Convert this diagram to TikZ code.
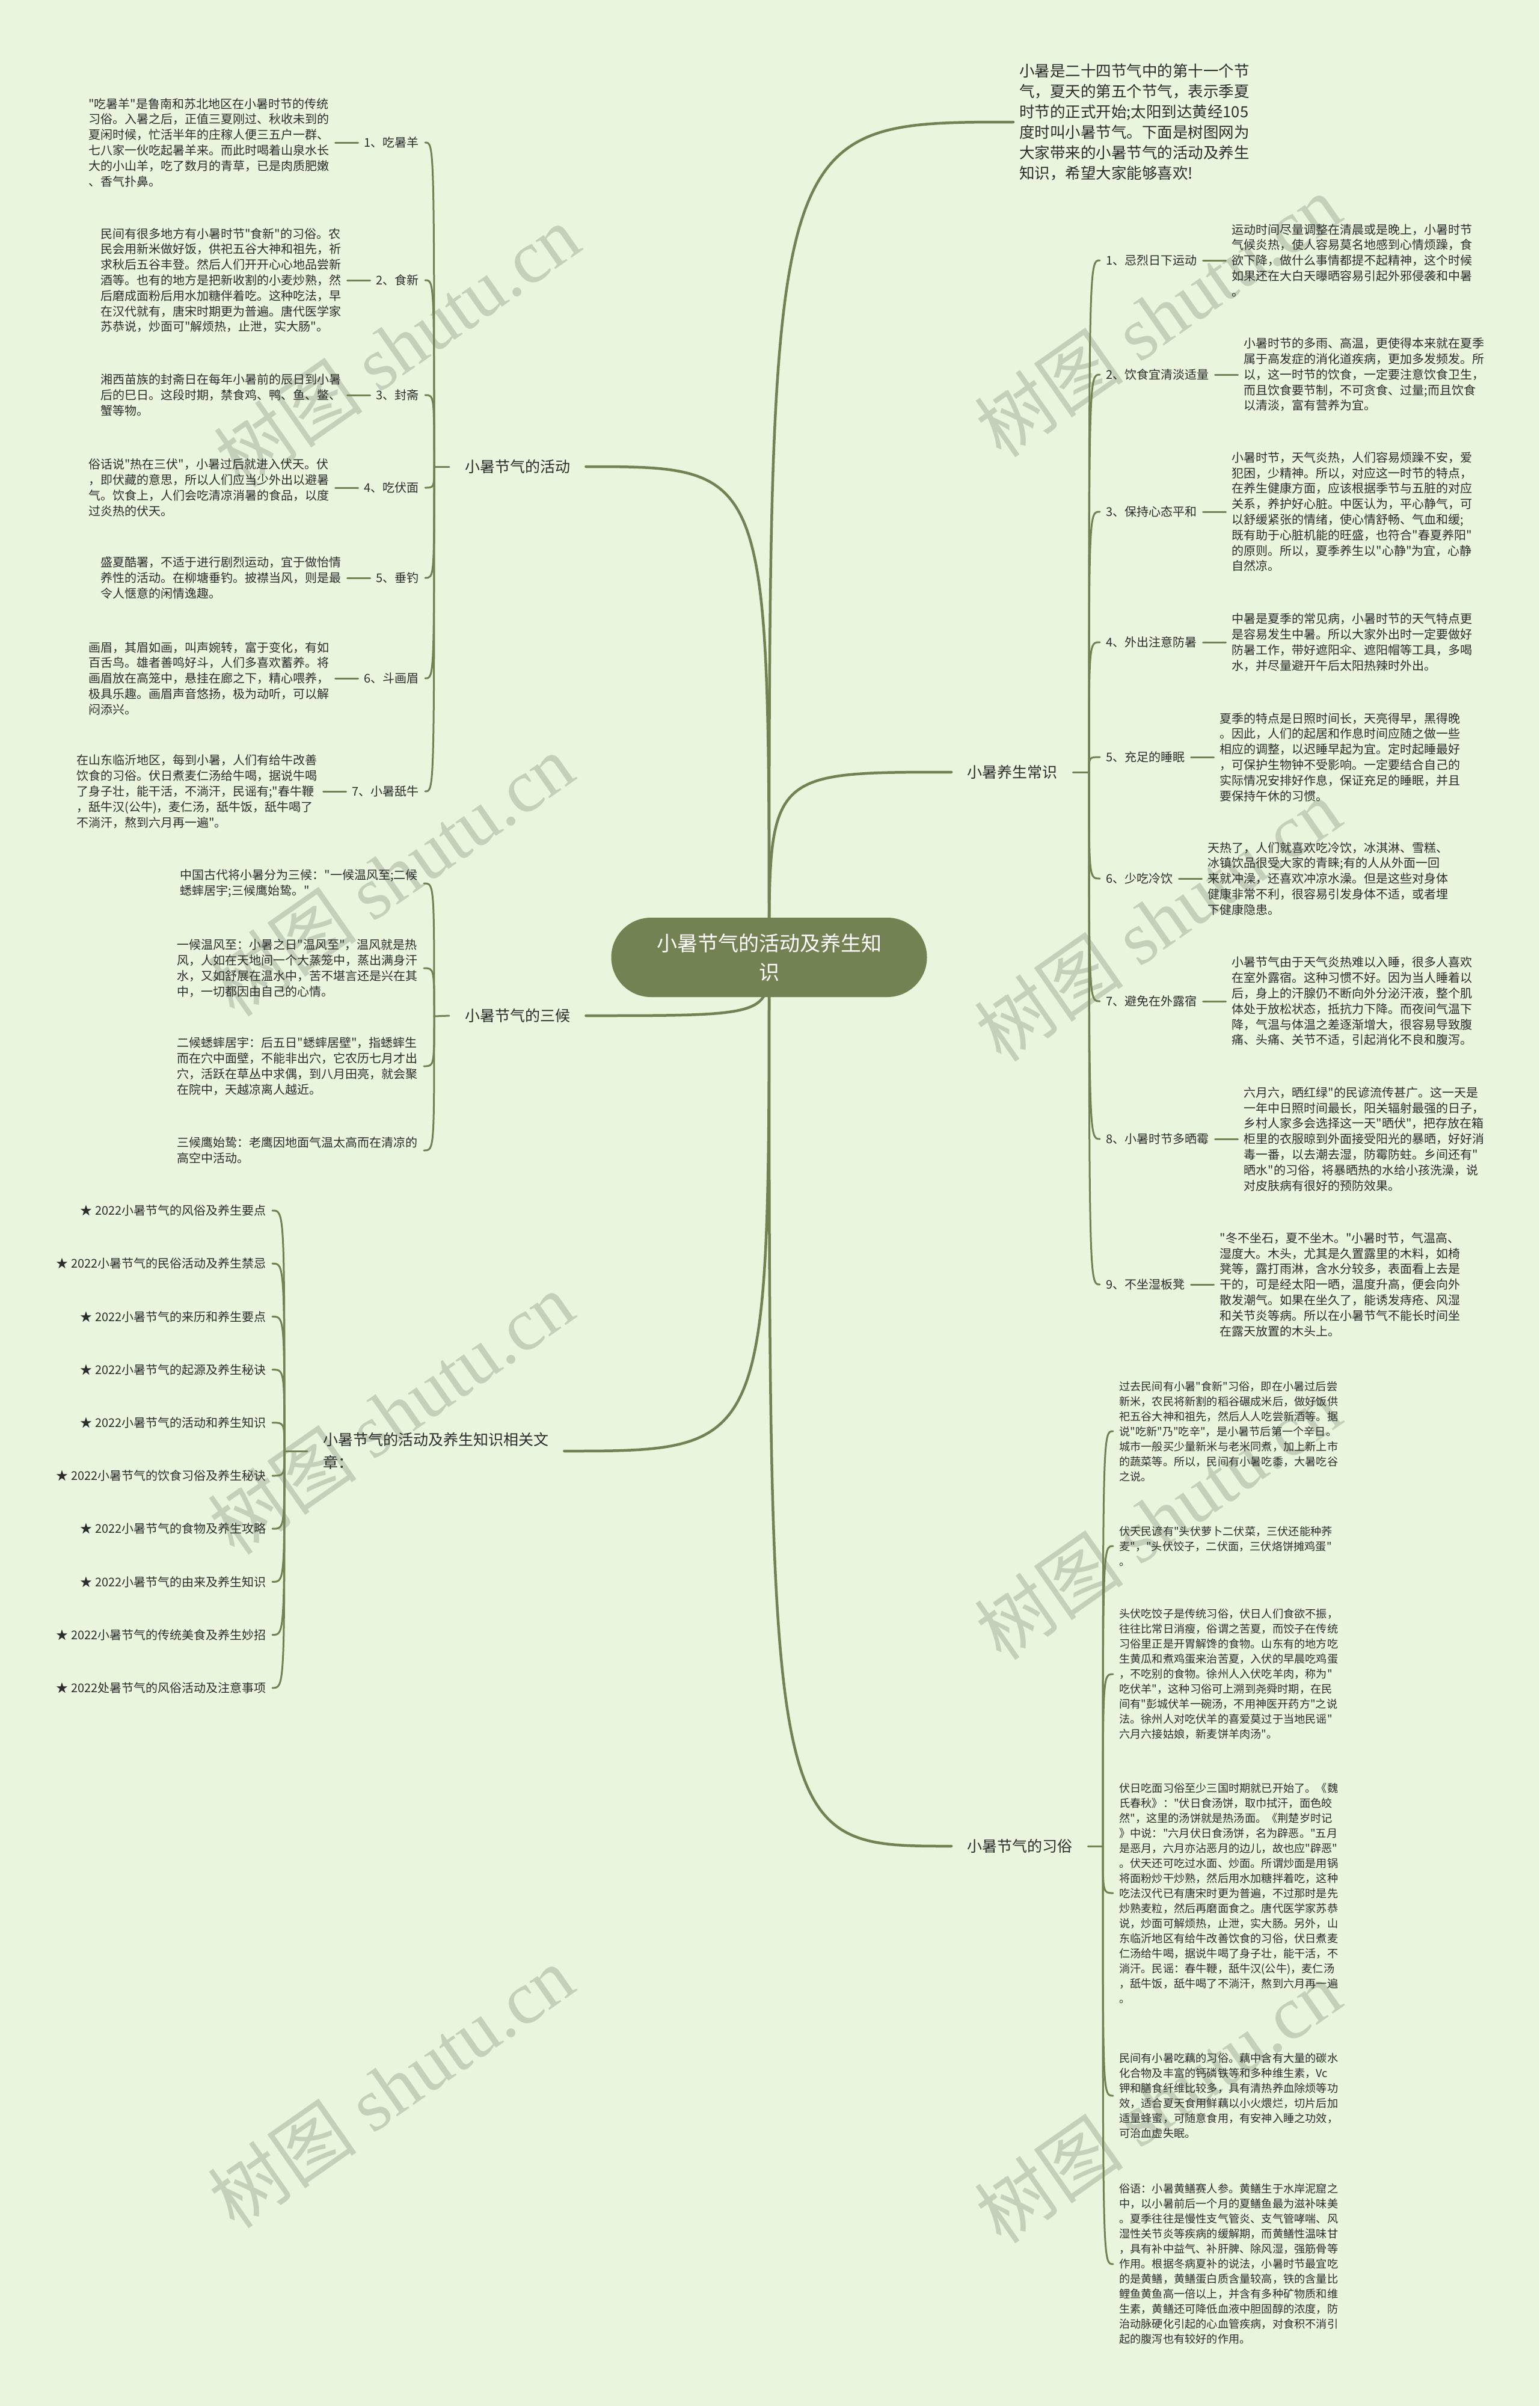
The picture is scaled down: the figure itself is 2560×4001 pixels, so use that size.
\documentclass[tikz,border=0pt]{standalone}
\usepackage{fontspec}
\setmainfont{Noto Sans CJK SC}[Ligatures=TeXOff]
\newfontfamily\wmlatin{Liberation Serif}
\usepackage{xcolor}
\usepackage{tikz}
\usetikzlibrary{positioning}
\definecolor{xs_bg}{RGB}{233,245,221}
\definecolor{xs_olive}{RGB}{115,130,83}
\definecolor{xs_text}{RGB}{45,45,45}
\definecolor{xs_mark}{RGB}{196,208,186}
\pgfdeclarelayer{bg}
\pgfdeclarelayer{links}
\pgfsetlayers{bg,links,main}

\begin{document}
\begin{tikzpicture}[x=1pt, y=-1pt,
    root/.style={fill=xs_olive, text=white, rounded corners=66pt, minimum width=525pt,
                 minimum height=132pt, align=center, font=\fontsize{34}{48}\selectfont},
    mainlbl/.style={inner xsep=26pt, inner ysep=4pt, text=xs_text, align=left,
                    font=\fontsize{25}{38}\selectfont},
    sublbl/.style={inner xsep=10pt, inner ysep=4pt, text=xs_text, font=\fontsize{20}{26}\selectfont},
    leaftxt/.style={inner xsep=10pt, inner ysep=2pt, align=left, text=xs_text,
                    font=\fontsize{20}{25.8}\selectfont},
    custtxt/.style={leaftxt, font=\fontsize{18.2}{25}\selectfont},
    trunk/.style={draw=xs_olive, line width=4.5pt, line cap=round},
    twig/.style={draw=xs_olive, line width=3pt, line cap=round},
    wmark/.style={text=xs_mark, rotate=35, font=\fontsize{125}{125}\selectfont}]
  \useasboundingbox (0,0) rectangle (2560,4001);
  \begin{pgfonlayer}{bg}
    \fill[xs_bg] (0,0) rectangle (2560,4001);
    \foreach \wx/\wy [count=\w] in {660/575, 1925/525, 650/1455, 1925/1530, 650/2350, 1925/2525, 650/3470, 1925/3495}
      \node[wmark] (wm\w) at (\wx,\wy) {树图 {\wmlatin shutu.cn}};
  \end{pgfonlayer}

  % centre
  \node[root] (root) at (1279,1592) {小暑节气的活动及养生知\\识};

  % main branches
  \node[mainlbl, anchor=west] (act) at (747,776) {小暑节气的活动};
  \node[mainlbl, anchor=west] (hou) at (747,1689) {小暑节气的三候};
  \node[mainlbl, anchor=west] (art) at (511,2413) {小暑节气的活动及养生知识相关文\\章：};
  \node[mainlbl, anchor=west, inner xsep=10pt, font=\fontsize{25.5}{34}\selectfont] (intro) at (1685,203)
    {小暑是二十四节气中的第十一个节\\气，夏天的第五个节气，表示季夏\\时节的正式开始;太阳到达黄经105\\度时叫小暑节气。下面是树图网为\\大家带来的小暑节气的活动及养生\\知识，希望大家能够喜欢!};
  \node[mainlbl, anchor=west] (care) at (1582,1284) {小暑养生常识};
  \node[mainlbl, anchor=west] (cust) at (1582,3070) {小暑节气的习俗};

  \coordinate (acthub) at (722,776);
  \coordinate (houhub) at (722,1690);
  \coordinate (arthub) at (473,2413);
  \coordinate (carehub) at (1811,1284);
  \coordinate (custhub) at (1834,3070);

  % activities
  \node[sublbl, anchor=east] (act1) at (707,237) {1、吃暑羊};
  \node[leaftxt, left=38pt of act1] (act1t) {"吃暑羊"是鲁南和苏北地区在小暑时节的传统\\习俗。入暑之后，正值三夏刚过、秋收未到的\\夏闲时候，忙活半年的庄稼人便三五户一群、\\七八家一伙吃起暑羊来。而此时喝着山泉水长\\大的小山羊，吃了数月的青草，已是肉质肥嫩\\、香气扑鼻。};
  \node[sublbl, anchor=east] (act2) at (707,466) {2、食新};
  \node[leaftxt, left=38pt of act2] (act2t) {民间有很多地方有小暑时节"食新"的习俗。农\\民会用新米做好饭，供祀五谷大神和祖先，祈\\求秋后五谷丰登。然后人们开开心心地品尝新\\酒等。也有的地方是把新收割的小麦炒熟，然\\后磨成面粉后用水加糖伴着吃。这种吃法，早\\在汉代就有，唐宋时期更为普遍。唐代医学家\\苏恭说，炒面可"解烦热，止泄，实大肠"。};
  \node[sublbl, anchor=east] (act3) at (707,657) {3、封斋};
  \node[leaftxt, left=38pt of act3] (act3t) {湘西苗族的封斋日在每年小暑前的辰日到小暑\\后的巳日。这段时期，禁食鸡、鸭、鱼、鳖、\\蟹等物。};
  \node[sublbl, anchor=east] (act4) at (707,811) {4、吃伏面};
  \node[leaftxt, left=38pt of act4] (act4t) {俗话说"热在三伏"，小暑过后就进入伏天。伏\\，即伏藏的意思，所以人们应当少外出以避暑\\气。饮食上，人们会吃清凉消暑的食品，以度\\过炎热的伏天。};
  \node[sublbl, anchor=east] (act5) at (707,961) {5、垂钓};
  \node[leaftxt, left=38pt of act5] (act5t) {盛夏酷署，不适于进行剧烈运动，宜于做怡情\\养性的活动。在柳塘垂钓。披襟当风，则是最\\令人惬意的闲情逸趣。};
  \node[sublbl, anchor=east] (act6) at (707,1128) {6、斗画眉};
  \node[leaftxt, left=38pt of act6] (act6t) {画眉，其眉如画，叫声婉转，富于变化，有如\\百舌鸟。雄者善鸣好斗，人们多喜欢蓄养。将\\画眉放在高笼中，悬挂在廊之下，精心喂养，\\极具乐趣。画眉声音悠扬，极为动听，可以解\\闷添兴。};
  \node[sublbl, anchor=east] (act7) at (707,1316) {7、小暑舐牛};
  \node[leaftxt, left=38pt of act7] (act7t) {在山东临沂地区，每到小暑，人们有给牛改善\\饮食的习俗。伏日煮麦仁汤给牛喝，据说牛喝\\了身子壮，能干活，不淌汗，民谣有;"春牛鞭\\，舐牛汉(公牛)，麦仁汤，舐牛饭，舐牛喝了\\不淌汗，熬到六月再一遍"。};

  % three hou
  \node[leaftxt, anchor=east] (hou1) at (705,1469) {中国古代将小暑分为三候："一候温风至;二候\\蟋蟀居宇;三候鹰始鸷。"};
  \node[leaftxt, anchor=east] (hou2) at (705,1610) {一候温风至：小暑之日"温风至"，温风就是热\\风，人如在天地间一个大蒸笼中，蒸出满身汗\\水，又如舒展在温水中，苦不堪言还是兴在其\\中，一切都因由自己的心情。};
  \node[leaftxt, anchor=east] (hou3) at (705,1773) {二候蟋蟀居宇：后五日"蟋蟀居壁"，指蟋蟀生\\而在穴中面壁，不能非出穴，它农历七月才出\\穴，活跃在草丛中求偶，到八月田亮，就会聚\\在院中，天越凉离人越近。};
  \node[leaftxt, anchor=east] (hou4) at (705,1913) {三候鹰始鸷：老鹰因地面气温太高而在清凉的\\高空中活动。};

  % related articles
  \foreach \ttl [count=\k] in {★ 2022小暑节气的风俗及养生要点, ★ 2022小暑节气的民俗活动及养生禁忌,
      ★ 2022小暑节气的来历和养生要点, ★ 2022小暑节气的起源及养生秘诀, ★ 2022小暑节气的活动和养生知识,
      ★ 2022小暑节气的饮食习俗及养生秘诀, ★ 2022小暑节气的食物及养生攻略, ★ 2022小暑节气的由来及养生知识,
      ★ 2022小暑节气的传统美食及养生妙招, ★ 2022处暑节气的风俗活动及注意事项}
    \node[leaftxt, anchor=east] (art\k) at (453,1924.8+88.2*\k) {\ttl};

  % health care
  \node[sublbl, anchor=west] (care1) at (1829,433) {1、忌烈日下运动};
  \node[leaftxt, right=38pt of care1] (care1t) {运动时间尽量调整在清晨或是晚上，小暑时节\\气候炎热，使人容易莫名地感到心情烦躁，食\\欲下降，做什么事情都提不起精神，这个时候\\如果还在大白天曝晒容易引起外邪侵袭和中暑\\。};
  \node[sublbl, anchor=west] (care2) at (1829,623) {2、饮食宜清淡适量};
  \node[leaftxt, right=38pt of care2] (care2t) {小暑时节的多雨、高温，更使得本来就在夏季\\属于高发症的消化道疾病，更加多发频发。所\\以，这一时节的饮食，一定要注意饮食卫生，\\而且饮食要节制，不可贪食、过量;而且饮食\\以清淡，富有营养为宜。};
  \node[sublbl, anchor=west] (care3) at (1829,851) {3、保持心态平和};
  \node[leaftxt, right=38pt of care3] (care3t) {小暑时节，天气炎热，人们容易烦躁不安，爱\\犯困，少精神。所以，对应这一时节的特点，\\在养生健康方面，应该根据季节与五脏的对应\\关系，养护好心脏。中医认为，平心静气，可\\以舒缓紧张的情绪，使心情舒畅、气血和缓;\\既有助于心脏机能的旺盛，也符合"春夏养阳"\\的原则。所以，夏季养生以"心静"为宜，心静\\自然凉。};
  \node[sublbl, anchor=west] (care4) at (1829,1068) {4、外出注意防暑};
  \node[leaftxt, right=38pt of care4] (care4t) {中暑是夏季的常见病，小暑时节的天气特点更\\是容易发生中暑。所以大家外出时一定要做好\\防暑工作，带好遮阳伞、遮阳帽等工具，多喝\\水，并尽量避开午后太阳热辣时外出。};
  \node[sublbl, anchor=west] (care5) at (1829,1259) {5、充足的睡眠};
  \node[leaftxt, right=38pt of care5] (care5t) {夏季的特点是日照时间长，天亮得早，黑得晚\\。因此，人们的起居和作息时间应随之做一些\\相应的调整，以迟睡早起为宜。定时起睡最好\\，可保护生物钟不受影响。一定要结合自己的\\实际情况安排好作息，保证充足的睡眠，并且\\要保持午休的习惯。};
  \node[sublbl, anchor=west] (care6) at (1829,1461) {6、少吃冷饮};
  \node[leaftxt, right=38pt of care6] (care6t) {天热了，人们就喜欢吃冷饮，冰淇淋、雪糕、\\冰镇饮品很受大家的青睐;有的人从外面一回\\来就冲澡，还喜欢冲凉水澡。但是这些对身体\\健康非常不利，很容易引发身体不适，或者埋\\下健康隐患。};
  \node[sublbl, anchor=west] (care7) at (1829,1665) {7、避免在外露宿};
  \node[leaftxt, right=38pt of care7] (care7t) {小暑节气由于天气炎热难以入睡，很多人喜欢\\在室外露宿。这种习惯不好。因为当人睡着以\\后，身上的汗腺仍不断向外分泌汗液，整个肌\\体处于放松状态，抵抗力下降。而夜间气温下\\降，气温与体温之差逐渐增大，很容易导致腹\\痛、头痛、关节不适，引起消化不良和腹泻。};
  \node[sublbl, anchor=west] (care8) at (1829,1894) {8、小暑时节多晒霉};
  \node[leaftxt, right=38pt of care8] (care8t) {六月六，晒红绿"的民谚流传甚广。这一天是\\一年中日照时间最长，阳关辐射最强的日子，\\乡村人家多会选择这一天"晒伏"，把存放在箱\\柜里的衣服晾到外面接受阳光的暴晒，好好消\\毒一番，以去潮去湿，防霉防蛀。乡间还有"\\晒水"的习俗，将暴晒热的水给小孩洗澡，说\\对皮肤病有很好的预防效果。};
  \node[sublbl, anchor=west] (care9) at (1829,2136) {9、不坐湿板凳};
  \node[leaftxt, right=38pt of care9] (care9t) {"冬不坐石，夏不坐木。"小暑时节，气温高、\\湿度大。木头，尤其是久置露里的木料，如椅\\凳等，露打雨淋，含水分较多，表面看上去是\\干的，可是经太阳一晒，温度升高，便会向外\\散发潮气。如果在坐久了，能诱发痔疮、风湿\\和关节炎等病。所以在小暑节气不能长时间坐\\在露天放置的木头上。};

  % customs
  \node[custtxt, anchor=west] (cust1) at (1851,2380) {过去民间有小暑"食新"习俗，即在小暑过后尝\\新米，农民将新割的稻谷碾成米后，做好饭供\\祀五谷大神和祖先，然后人人吃尝新酒等。据\\说"吃新"乃"吃辛"，是小暑节后第一个辛日。\\城市一般买少量新米与老米同煮，加上新上市\\的蔬菜等。所以，民间有小暑吃黍，大暑吃谷\\之说。};
  \node[custtxt, anchor=west] (cust2) at (1851,2571) {伏天民谚有"头伏萝卜二伏菜，三伏还能种荞\\麦"，"头伏饺子，二伏面，三伏烙饼摊鸡蛋"\\。};
  \node[custtxt, anchor=west] (cust3) at (1851,2784) {头伏吃饺子是传统习俗，伏日人们食欲不振，\\往往比常日消瘦，俗谓之苦夏，而饺子在传统\\习俗里正是开胃解馋的食物。山东有的地方吃\\生黄瓜和煮鸡蛋来治苦夏，入伏的早晨吃鸡蛋\\，不吃别的食物。徐州人入伏吃羊肉，称为"\\吃伏羊"，这种习俗可上溯到尧舜时期，在民\\间有"彭城伏羊一碗汤，不用神医开药方"之说\\法。徐州人对吃伏羊的喜爱莫过于当地民谣"\\六月六接姑娘，新麦饼羊肉汤"。};
  \node[custtxt, anchor=west] (cust4) at (1851,3148) {伏日吃面习俗至少三国时期就已开始了。《魏\\氏春秋》："伏日食汤饼，取巾拭汗，面色皎\\然"，这里的汤饼就是热汤面。《荆楚岁时记\\》中说："六月伏日食汤饼，名为辟恶。"五月\\是恶月，六月亦沾恶月的边儿，故也应"辟恶"\\。伏天还可吃过水面、炒面。所谓炒面是用锅\\将面粉炒干炒熟，然后用水加糖拌着吃，这种\\吃法汉代已有唐宋时更为普遍，不过那时是先\\炒熟麦粒，然后再磨面食之。唐代医学家苏恭\\说，炒面可解烦热，止泄，实大肠。另外，山\\东临沂地区有给牛改善饮食的习俗，伏日煮麦\\仁汤给牛喝，据说牛喝了身子壮，能干活，不\\淌汗。民谣：春牛鞭，舐牛汉(公牛)，麦仁汤\\，舐牛饭，舐牛喝了不淌汗，熬到六月再一遍\\。};
  \node[custtxt, anchor=west] (cust5) at (1851,3485) {民间有小暑吃藕的习俗。藕中含有大量的碳水\\化合物及丰富的钙磷铁等和多种维生素，Vc\\钾和膳食纤维比较多，具有清热养血除烦等功\\效，适合夏天食用鲜藕以小火煨烂，切片后加\\适量蜂蜜，可随意食用，有安神入睡之功效，\\可治血虚失眠。};
  \node[custtxt, anchor=west] (cust6) at (1851,3765) {俗语：小暑黄鳝赛人参。黄鳝生于水岸泥窟之\\中，以小暑前后一个月的夏鳝鱼最为滋补味美\\。夏季往往是慢性支气管炎、支气管哮喘、风\\湿性关节炎等疾病的缓解期，而黄鳝性温味甘\\，具有补中益气、补肝脾、除风湿，强筋骨等\\作用。根据冬病夏补的说法，小暑时节最宜吃\\的是黄鳝，黄鳝蛋白质含量较高，铁的含量比\\鲤鱼黄鱼高一倍以上，并含有多种矿物质和维\\生素，黄鳝还可降低血液中胆固醇的浓度，防\\治动脉硬化引起的心血管疾病，对食积不消引\\起的腹泻也有较好的作用。};

  \begin{pgfonlayer}{links}
    % centre to branches
    \foreach \br/\side in {act/east, hou/east, art/east, intro/west, care/west, cust/west}
      \draw[trunk] (root.center) .. controls (root.center |- \br.\side) .. (\br.\side);
    % stubs to hubs
    \foreach \br/\side in {act/west, hou/west, art/west, care/east, cust/east}
      \draw[twig] (\br.\side) -- (\br hub);
    % brackets
    \foreach \i in {1,...,7}{
      \draw[twig] (acthub) .. controls (acthub |- act\i.east) .. (act\i.east);
      \draw[twig] (act\i t.east) -- (act\i.west);
    }
    \foreach \i in {1,...,4}
      \draw[twig] (houhub) .. controls (houhub |- hou\i.east) .. (hou\i.east);
    \foreach \i in {1,...,10}
      \draw[twig] (arthub) .. controls (arthub |- art\i.east) .. (art\i.east);
    \foreach \i in {1,...,9}{
      \draw[twig] (carehub) .. controls (carehub |- care\i.west) .. (care\i.west);
      \draw[twig] (care\i.east) -- (care\i t.west);
    }
    \foreach \i in {1,...,6}
      \draw[twig] (custhub) .. controls (custhub |- cust\i.west) .. (cust\i.west);
  \end{pgfonlayer}
\end{tikzpicture}
\end{document}
